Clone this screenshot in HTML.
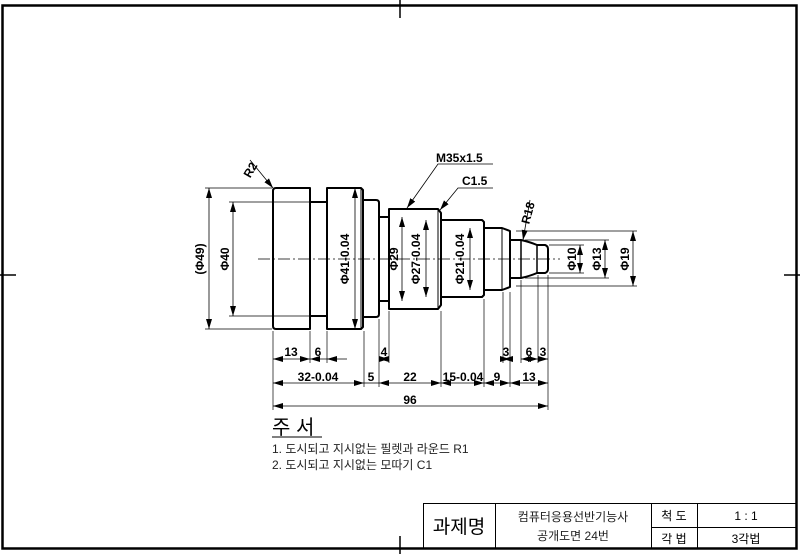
<!DOCTYPE html>
<html><head><meta charset="utf-8"><style>
html,body{margin:0;padding:0;background:#fff;}
svg{display:block;}
.t{font-family:"Liberation Sans","Noto Sans CJK KR",sans-serif;}
.d{font-family:"Liberation Sans",sans-serif;font-weight:bold;font-size:12px;}
</style></head><body>
<svg width="800" height="554" viewBox="0 0 800 554" xmlns="http://www.w3.org/2000/svg">
<defs>
<marker id="a" viewBox="0 0 10 6" refX="10" refY="3" markerWidth="10" markerHeight="6" orient="auto-start-reverse" markerUnits="userSpaceOnUse"><path d="M0,0L10,3L0,6z" fill="#000"/></marker>
</defs>
<rect x="2.5" y="5.5" width="794" height="543" fill="none" stroke="#000" stroke-width="2.5"/>
<g stroke="#000" stroke-width="1.5">
<line x1="400" y1="0" x2="400" y2="18"/><line x1="400" y1="536" x2="400" y2="554"/>
<line x1="0" y1="275" x2="16" y2="275"/><line x1="784" y1="275" x2="800" y2="275"/>
</g>
<g stroke="#000" stroke-width="1" fill="none">
<rect x="423.5" y="503.5" width="373" height="45"/>
<line x1="495.5" y1="503" x2="495.5" y2="549"/>
<line x1="651.5" y1="503" x2="651.5" y2="549"/>
<line x1="697.5" y1="503" x2="697.5" y2="549"/>
<line x1="651" y1="527.5" x2="797" y2="527.5"/>
</g>
<g class="t" fill="#000">
<text x="459" y="533" font-size="19" text-anchor="middle">과제명</text>
<text x="573" y="521" font-size="12" text-anchor="middle" fill="#222">컴퓨터응용선반기능사</text>
<text x="573" y="540" font-size="12" text-anchor="middle" fill="#222">공개도면 24번</text>
<text x="674" y="520" font-size="12" text-anchor="middle">척 도</text>
<text x="674" y="543" font-size="12" text-anchor="middle">각 법</text>
<text x="746" y="520" font-size="12" text-anchor="middle">1 : 1</text>
<text x="746" y="543" font-size="12" text-anchor="middle">3각법</text>
<text x="272" y="434" font-size="20">주 서</text>
<text x="272" y="453" font-size="12" fill="#222">1. 도시되고 지시없는 필렛과 라운드 R1</text>
<text x="272" y="469" font-size="12" fill="#222">2. 도시되고 지시없는 모따기 C1</text>
</g>
<line x1="272" y1="437" x2="322" y2="437" stroke="#000" stroke-width="1"/>
<line x1="258" y1="259" x2="560" y2="259" stroke="#000" stroke-width="0.8" stroke-dasharray="12,3,2,3"/>
<g stroke="#000" stroke-width="2" fill="none" stroke-linejoin="round">
<path d="M276,188 H310 V329 H276 Q273,329 273,326 V191 Q273,188 276,188 Z"/>
<path d="M310,202 H327 M310,316 H327"/>
<path d="M327,188 H361 L363,190 V327 L361,329 H327 Z"/>
<line x1="361" y1="188" x2="361" y2="329" stroke-width="1"/>
<path d="M363,200 H376 Q379,200 379,203 V314 Q379,317 376,317 H363"/>
<path d="M379,217 H389 M379,301 H389"/>
<path d="M389,209 H438 L441,213 V305 L438,309 H389 Z"/>
<line x1="438" y1="209" x2="438" y2="309" stroke-width="1"/>
<path d="M441,220 H482 L484,222 V295 L482,297 H441"/>
<path d="M484,228 H502 L510,231 V287 L502,290 H484"/>
<line x1="502" y1="228" x2="502" y2="290" stroke-width="1"/>
<path d="M510,240 H521 Q530,242 537,245 H545 Q548,246 548,249 V269 Q548,272 545,273 H537 Q530,276 521,278 H510 Z"/>
<line x1="521" y1="240" x2="521" y2="278" stroke-width="1.5"/>
<line x1="537" y1="245" x2="537" y2="273" stroke-width="1.5"/>
</g>
<g stroke="#000" stroke-width="0.7">
<line x1="205" y1="188" x2="272" y2="188"/><line x1="205" y1="329" x2="272" y2="329"/>
<line x1="229" y1="202" x2="310" y2="202"/><line x1="229" y1="316" x2="310" y2="316"/>
<line x1="516" y1="231" x2="637" y2="231"/><line x1="516" y1="286" x2="637" y2="286"/>
<line x1="525" y1="240" x2="609" y2="240"/><line x1="525" y1="278" x2="609" y2="278"/>
<line x1="549" y1="245" x2="584" y2="245"/><line x1="549" y1="273" x2="584" y2="273"/>
<line x1="273" y1="331" x2="273" y2="410"/><line x1="310" y1="331" x2="310" y2="363"/>
<line x1="327" y1="331" x2="327" y2="363"/><line x1="364" y1="331" x2="364" y2="387"/>
<line x1="379" y1="319" x2="379" y2="387"/><line x1="389" y1="311" x2="389" y2="363"/>
<line x1="441" y1="311" x2="441" y2="387"/><line x1="484" y1="299" x2="484" y2="387"/>
<line x1="503" y1="292" x2="503" y2="363"/><line x1="510" y1="292" x2="510" y2="387"/>
<line x1="521" y1="280" x2="521" y2="363"/><line x1="538" y1="275" x2="538" y2="363"/>
<line x1="548" y1="275" x2="548" y2="410"/>
</g>
<g stroke="#000" stroke-width="0.8" fill="none">
<line x1="209" y1="188" x2="209" y2="329" marker-start="url(#a)" marker-end="url(#a)"/>
<line x1="233" y1="202" x2="233" y2="316" marker-start="url(#a)" marker-end="url(#a)"/>
<line x1="355" y1="188" x2="355" y2="329" marker-start="url(#a)" marker-end="url(#a)"/>
<line x1="402" y1="217" x2="402" y2="301" marker-start="url(#a)" marker-end="url(#a)"/>
<line x1="426" y1="220" x2="426" y2="297" marker-start="url(#a)" marker-end="url(#a)"/>
<line x1="470" y1="228" x2="470" y2="290" marker-start="url(#a)" marker-end="url(#a)"/>
<line x1="580" y1="245" x2="580" y2="273" marker-start="url(#a)" marker-end="url(#a)"/>
<line x1="605" y1="240" x2="605" y2="278" marker-start="url(#a)" marker-end="url(#a)"/>
<line x1="633" y1="231" x2="633" y2="286" marker-start="url(#a)" marker-end="url(#a)"/>
<line x1="273" y1="359" x2="310" y2="359" marker-start="url(#a)" marker-end="url(#a)"/>
<line x1="310" y1="359" x2="327" y2="359" marker-start="url(#a)"/>
<line x1="327" y1="359" x2="347" y2="359" marker-start="url(#a)"/>
<line x1="379" y1="359" x2="389" y2="359" marker-start="url(#a)" marker-end="url(#a)"/>
<line x1="503" y1="359" x2="510" y2="359" marker-start="url(#a)" marker-end="url(#a)"/>
<line x1="521" y1="359" x2="538" y2="359" marker-start="url(#a)" marker-end="url(#a)"/>
<line x1="538" y1="359" x2="548" y2="359" marker-end="url(#a)"/>
<line x1="273" y1="383" x2="364" y2="383" marker-start="url(#a)" marker-end="url(#a)"/>
<line x1="364" y1="383" x2="379" y2="383"/>
<line x1="379" y1="383" x2="441" y2="383" marker-start="url(#a)" marker-end="url(#a)"/>
<line x1="441" y1="383" x2="484" y2="383" marker-start="url(#a)" marker-end="url(#a)"/>
<line x1="484" y1="383" x2="510" y2="383" marker-start="url(#a)" marker-end="url(#a)"/>
<line x1="510" y1="383" x2="548" y2="383" marker-start="url(#a)" marker-end="url(#a)"/>
<line x1="273" y1="406" x2="548" y2="406" marker-start="url(#a)" marker-end="url(#a)"/>
<polyline points="250,160 273,188" marker-end="url(#a)"/>
<polyline points="493,164 438,164 407,208" marker-end="url(#a)"/>
<polyline points="493,188 458,188 440,210" marker-end="url(#a)"/>
<polyline points="530,200 523,240" marker-end="url(#a)"/>
</g>
<g class="d" fill="#000">
<text x="291" y="356" text-anchor="middle">13</text>
<text x="318" y="356" text-anchor="middle">6</text>
<text x="384" y="356" text-anchor="middle">4</text>
<text x="506" y="356" text-anchor="middle">3</text>
<text x="529" y="356" text-anchor="middle">6</text>
<text x="543" y="356" text-anchor="middle">3</text>
<text x="318" y="381" text-anchor="middle">32-0.04</text>
<text x="371" y="381" text-anchor="middle">5</text>
<text x="410" y="381" text-anchor="middle">22</text>
<text x="463" y="381" text-anchor="middle">15-0.04</text>
<text x="497" y="381" text-anchor="middle">9</text>
<text x="529" y="381" text-anchor="middle">13</text>
<text x="410" y="404" text-anchor="middle">96</text>
<text x="436" y="162">M35x1.5</text>
<text x="462" y="185">C1.5</text>
<text transform="translate(254,172) rotate(-60)" text-anchor="middle">R2</text>
<text transform="translate(532,214) rotate(-75)" text-anchor="middle">R18</text>
<text transform="translate(204,259) rotate(-90)" text-anchor="middle">(Φ49)</text>
<text transform="translate(229,259) rotate(-90)" text-anchor="middle">Φ40</text>
<text transform="translate(349,259) rotate(-90)" text-anchor="middle">Φ41-0.04</text>
<text transform="translate(398,259) rotate(-90)" text-anchor="middle">Φ29</text>
<text transform="translate(420,259) rotate(-90)" text-anchor="middle">Φ27-0.04</text>
<text transform="translate(464,259) rotate(-90)" text-anchor="middle">Φ21-0.04</text>
<text transform="translate(576,259) rotate(-90)" text-anchor="middle">Φ10</text>
<text transform="translate(601,259) rotate(-90)" text-anchor="middle">Φ13</text>
<text transform="translate(629,259) rotate(-90)" text-anchor="middle">Φ19</text>
</g>
</svg>
</body></html>
